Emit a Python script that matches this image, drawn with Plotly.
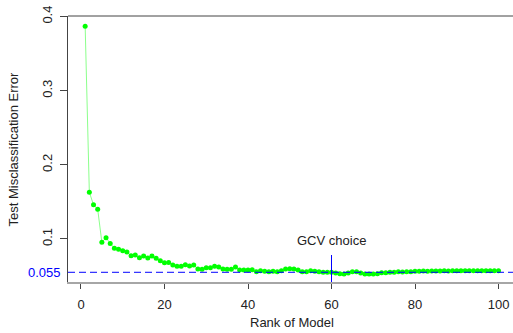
import plotly.graph_objects as go

rank = list(range(1, 101))
test_error = [
    0.387, 0.163, 0.146, 0.140, 0.0954, 0.1016, 0.0940, 0.0873, 0.0860, 0.0841,
    0.0823, 0.0773, 0.0783, 0.0747, 0.0769, 0.0742, 0.0769, 0.0738, 0.0704, 0.0679,
    0.0682, 0.0648, 0.0631, 0.0631, 0.0652, 0.0635, 0.0648, 0.0594, 0.0590, 0.0612,
    0.0612, 0.0631, 0.0621, 0.0594, 0.0590, 0.0590, 0.0621, 0.0581, 0.0581, 0.0581,
    0.0585, 0.0558, 0.0572, 0.0563, 0.0558, 0.0563, 0.0558, 0.0572, 0.0594, 0.0598,
    0.0594, 0.0581, 0.0558, 0.0558, 0.0572, 0.0563, 0.0558, 0.0550, 0.0550, 0.0550,
    0.0541, 0.0531, 0.0527, 0.0541, 0.0558, 0.0558, 0.0541, 0.0527, 0.0527, 0.0527,
    0.0531, 0.0545, 0.0545, 0.0550, 0.0550, 0.0558, 0.0554, 0.0558, 0.0558, 0.0563,
    0.0563, 0.0567, 0.0563, 0.0567, 0.0567, 0.0567, 0.0572, 0.0567, 0.0572, 0.0572,
    0.0572, 0.0572, 0.0572, 0.0572, 0.0572, 0.0572, 0.0572, 0.0572, 0.0572, 0.0572,
]
gcv_rank = 60
gcv_error = 0.055
x_ticks = [0, 20, 40, 60, 80, 100]
y_ticks = [0.1, 0.2, 0.3, 0.4]
y_ticktext = ["0.1", "0.2", "0.3", "0.4"]

FONT = "Liberation Sans, Arial, sans-serif"
TXT = "#222222"
y_range = [0.0419, 0.4007]

fig = go.Figure()
fig.add_trace(go.Scatter(
    x=rank, y=test_error, mode="lines+markers",
    line=dict(color="rgba(90,255,90,0.7)", width=1),
    marker=dict(color="#00ff00", size=5, line=dict(width=0)),
    showlegend=False, hoverinfo="skip",
))

fig.update_layout(
    width=513, height=333,
    margin=dict(l=68, r=0, t=16, b=51, pad=0),
    paper_bgcolor="white", plot_bgcolor="white",
    font=dict(family=FONT, size=13, color=TXT),
    xaxis=dict(
        range=[-3.11, 103.47], tickvals=x_ticks, ticks="outside", ticklen=5,
        tickcolor="#444444", tickwidth=1, showgrid=False, zeroline=False,
        showline=True, linecolor="#a6a6a6", linewidth=2, automargin=False,
        tickfont=dict(family=FONT, size=13, color=TXT), ticklabelstandoff=4,
    ),
    yaxis=dict(
        range=y_range, tickvals=y_ticks, ticktext=y_ticktext, tickangle=-90,
        ticks="outside", ticklen=7, tickcolor="#444444", tickwidth=1,
        showgrid=False, zeroline=False, showline=True, linecolor="#444444",
        linewidth=1, automargin=False,
        tickfont=dict(family=FONT, size=13, color=TXT), ticklabelstandoff=3,
    ),
)

# top frame line
fig.add_shape(type="line", xref="paper", yref="paper", x0=0, x1=1, y0=1, y1=1,
              line=dict(color="#444444", width=1))
# dashed reference line at GCV error
fig.add_shape(type="line", xref="paper", yref="y", x0=0, x1=1, y0=gcv_error, y1=gcv_error,
              line=dict(color="#0000ff", width=1, dash="7px,4px"))
# vertical marker at GCV choice
fig.add_shape(type="line", xref="x", yref="y", x0=gcv_rank, x1=gcv_rank,
              y0=y_range[0], y1=0.0783, line=dict(color="#0000ff", width=1))

fig.add_annotation(x=gcv_rank, y=0.0985, xref="x", yref="y", text="GCV choice",
                   showarrow=False, xanchor="center", yanchor="middle",
                   font=dict(family=FONT, size=13, color=TXT))
fig.add_annotation(x=0, y=gcv_error, xref="paper", yref="y", text="0.055",
                   showarrow=False, xanchor="right", yanchor="middle",
                   xshift=-5, font=dict(family=FONT, size=13, color="#0000ff"))
fig.add_annotation(x=0.5, y=0, xref="paper", yref="paper", text="Rank of Model",
                   showarrow=False, xanchor="center", yanchor="middle",
                   xshift=1.5, yshift=-40, font=dict(family=FONT, size=13, color=TXT))
fig.add_annotation(x=0, y=0.5, xref="paper", yref="paper", text="Test Misclassification Error",
                   showarrow=False, textangle=-90, xanchor="center", yanchor="middle",
                   xshift=-55.5, font=dict(family=FONT, size=13, color=TXT))

fig.write_html("out.html")
